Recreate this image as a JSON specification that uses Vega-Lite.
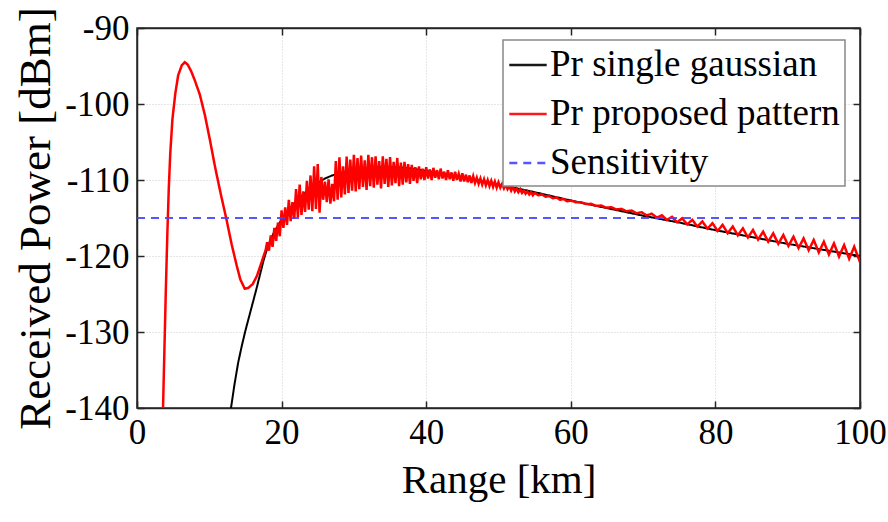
{
  "$schema": "https://vega.github.io/schema/vega-lite/v6.json",
  "width": 723,
  "height": 380,
  "autosize": "none",
  "padding": {"left": 137, "top": 28, "right": 28, "bottom": 114},
  "background": "white",
  "config": {
    "font": "Liberation Serif",
    "view": {"stroke": "#262626", "strokeWidth": 1.5},
    "style": {"guide-label": {"font": "Liberation Serif"}, "guide-title": {"font": "Liberation Serif"}},
    "axis": {
      "labelFont": "Liberation Serif",
      "titleFont": "Liberation Serif",
      "labelColor": "#000000",
      "titleColor": "#000000",
      "labelFontSize": 35,
      "titleFontWeight": "normal",
      "domainColor": "#262626",
      "domainWidth": 1.5,
      "tickColor": "#262626",
      "tickWidth": 1.5,
      "tickSize": -7,
      "labelFlush": false,
      "labelOverlap": false,
      "gridColor": "#cccccc",
      "gridDash": [1, 2],
      "gridWidth": 1
    },
    "legend": {
      "labelFont": "Liberation Serif",
      "labelFontSize": 37,
      "labelColor": "#000000",
      "labelLimit": 0,
      "orient": "none",
      "legendX": 366,
      "legendY": 12,
      "fillColor": "white",
      "strokeColor": "#888888",
      "strokeWidth": 1.5,
      "padding": 5,
      "symbolType": "stroke",
      "symbolSize": 1400,
      "symbolStrokeWidth": 2.5,
      "rowPadding": 11,
      "labelOffset": 2,
      "title": null
    }
  },
  "datasets": {
    "black": [
      {"s": "Pr single gaussian", "x": 13.0, "y": -140},
      {"s": "Pr single gaussian", "x": 13.5, "y": -136.8},
      {"s": "Pr single gaussian", "x": 14.0, "y": -134.0},
      {"s": "Pr single gaussian", "x": 14.5, "y": -131.8},
      {"s": "Pr single gaussian", "x": 15.0, "y": -129.8},
      {"s": "Pr single gaussian", "x": 15.5, "y": -128.0},
      {"s": "Pr single gaussian", "x": 16.0, "y": -126.2},
      {"s": "Pr single gaussian", "x": 16.5, "y": -124.4},
      {"s": "Pr single gaussian", "x": 17.0, "y": -122.5},
      {"s": "Pr single gaussian", "x": 17.5, "y": -120.6},
      {"s": "Pr single gaussian", "x": 18.0, "y": -119.0},
      {"s": "Pr single gaussian", "x": 18.5, "y": -117.8},
      {"s": "Pr single gaussian", "x": 19.0, "y": -116.8},
      {"s": "Pr single gaussian", "x": 20.0, "y": -115.2},
      {"s": "Pr single gaussian", "x": 21.0, "y": -113.9},
      {"s": "Pr single gaussian", "x": 22.0, "y": -112.8},
      {"s": "Pr single gaussian", "x": 23.0, "y": -111.9},
      {"s": "Pr single gaussian", "x": 24.0, "y": -111.1},
      {"s": "Pr single gaussian", "x": 25.0, "y": -110.4},
      {"s": "Pr single gaussian", "x": 26.0, "y": -109.8},
      {"s": "Pr single gaussian", "x": 27.0, "y": -109.4},
      {"s": "Pr single gaussian", "x": 28.0, "y": -109.1},
      {"s": "Pr single gaussian", "x": 30.0, "y": -108.7},
      {"s": "Pr single gaussian", "x": 32.0, "y": -108.4},
      {"s": "Pr single gaussian", "x": 34.0, "y": -108.3},
      {"s": "Pr single gaussian", "x": 36.0, "y": -108.3},
      {"s": "Pr single gaussian", "x": 38.0, "y": -108.5},
      {"s": "Pr single gaussian", "x": 40.0, "y": -108.8},
      {"s": "Pr single gaussian", "x": 45.0, "y": -109.6},
      {"s": "Pr single gaussian", "x": 50.0, "y": -110.6},
      {"s": "Pr single gaussian", "x": 55.0, "y": -111.6},
      {"s": "Pr single gaussian", "x": 60.0, "y": -112.7},
      {"s": "Pr single gaussian", "x": 65.0, "y": -113.7},
      {"s": "Pr single gaussian", "x": 70.0, "y": -114.7},
      {"s": "Pr single gaussian", "x": 75.0, "y": -115.6},
      {"s": "Pr single gaussian", "x": 80.0, "y": -116.6},
      {"s": "Pr single gaussian", "x": 85.0, "y": -117.5},
      {"s": "Pr single gaussian", "x": 90.0, "y": -118.4},
      {"s": "Pr single gaussian", "x": 95.0, "y": -119.2},
      {"s": "Pr single gaussian", "x": 100.0, "y": -120.0}
    ],
    "red": [
      {"x": 3.6, "y": -140}, {"x": 3.8, "y": -132}, {"x": 4.0, "y": -124}, {"x": 4.2, "y": -117},
      {"x": 4.4, "y": -111}, {"x": 4.6, "y": -106.5}, {"x": 4.9, "y": -102}, {"x": 5.3, "y": -98.6},
      {"x": 5.7, "y": -96.2}, {"x": 6.2, "y": -94.9}, {"x": 6.6, "y": -94.5}, {"x": 7.0, "y": -94.8},
      {"x": 7.5, "y": -95.7}, {"x": 8.0, "y": -96.9}, {"x": 8.7, "y": -98.8}, {"x": 9.4, "y": -101.5},
      {"x": 10.1, "y": -104.8}, {"x": 10.8, "y": -108.3}, {"x": 11.6, "y": -111.9}, {"x": 12.4, "y": -115.3},
      {"x": 13.1, "y": -118.5}, {"x": 13.8, "y": -121.3}, {"x": 14.3, "y": -123.1}, {"x": 14.9, "y": -124.3},
      {"x": 15.4, "y": -124.2}, {"x": 16.0, "y": -123.7}, {"x": 16.6, "y": -122.6}, {"x": 17.2, "y": -120.9},
      {"x": 17.8, "y": -119.2},
      {"x": 18.00, "y": -118.2}, {"x": 18.25, "y": -119.3}, {"x": 18.50, "y": -117.3}, {"x": 18.75, "y": -118.8},
      {"x": 19.00, "y": -116.3}, {"x": 19.25, "y": -118.0}, {"x": 19.50, "y": -115.6}, {"x": 19.75, "y": -117.4},
      {"x": 20.00, "y": -114.0}, {"x": 20.25, "y": -116.3}, {"x": 20.50, "y": -113.6}, {"x": 20.75, "y": -115.9},
      {"x": 21.00, "y": -112.6}, {"x": 21.25, "y": -115.4}, {"x": 21.50, "y": -112.9}, {"x": 21.75, "y": -115.1},
      {"x": 22.00, "y": -111.2}, {"x": 22.25, "y": -114.9}, {"x": 22.50, "y": -110.6}, {"x": 22.75, "y": -114.6},
      {"x": 23.00, "y": -111.5}, {"x": 23.25, "y": -114.2}, {"x": 23.50, "y": -110.1}, {"x": 23.75, "y": -113.9},
      {"x": 24.00, "y": -109.4}, {"x": 24.25, "y": -114.1}, {"x": 24.50, "y": -108.2}, {"x": 24.75, "y": -113.8},
      {"x": 25.00, "y": -107.9}, {"x": 25.25, "y": -114.3}, {"x": 25.50, "y": -109.6}, {"x": 25.75, "y": -112.6},
      {"x": 26.00, "y": -110.2}, {"x": 26.25, "y": -112.9}, {"x": 26.50, "y": -109.9}, {"x": 26.75, "y": -113.1},
      {"x": 27.00, "y": -110.5}, {"x": 27.25, "y": -112.8}, {"x": 27.50, "y": -107.5}, {"x": 27.75, "y": -112.6},
      {"x": 28.00, "y": -107.0}, {"x": 28.25, "y": -112.3}, {"x": 28.50, "y": -108.2}, {"x": 28.75, "y": -111.9},
      {"x": 29.00, "y": -106.9}, {"x": 29.25, "y": -111.7}, {"x": 29.50, "y": -107.3}, {"x": 29.75, "y": -111.4},
      {"x": 30.00, "y": -106.7}, {"x": 30.25, "y": -111.5}, {"x": 30.50, "y": -107.1}, {"x": 30.75, "y": -111.2},
      {"x": 31.00, "y": -106.8}, {"x": 31.25, "y": -110.9}, {"x": 31.50, "y": -107.4}, {"x": 31.75, "y": -111.3},
      {"x": 32.00, "y": -106.7}, {"x": 32.25, "y": -110.8}, {"x": 32.50, "y": -107.0}, {"x": 32.75, "y": -111.0},
      {"x": 33.00, "y": -106.9}, {"x": 33.25, "y": -110.6}, {"x": 33.50, "y": -107.5}, {"x": 33.75, "y": -111.1},
      {"x": 34.00, "y": -106.9}, {"x": 34.25, "y": -110.5}, {"x": 34.50, "y": -107.2}, {"x": 34.75, "y": -110.9},
      {"x": 35.00, "y": -107.0}, {"x": 35.25, "y": -110.7}, {"x": 35.50, "y": -107.6}, {"x": 35.75, "y": -110.4},
      {"x": 36.00, "y": -107.1}, {"x": 36.25, "y": -110.8}, {"x": 36.50, "y": -107.7}, {"x": 36.75, "y": -110.6},
      {"x": 37.00, "y": -107.6}, {"x": 37.25, "y": -110.3}, {"x": 37.50, "y": -107.9}, {"x": 37.75, "y": -110.5},
      {"x": 38.00, "y": -108.0}, {"x": 38.25, "y": -110.1}, {"x": 38.50, "y": -108.3}, {"x": 38.75, "y": -110.4},
      {"x": 39.00, "y": -108.2}, {"x": 39.25, "y": -109.9}, {"x": 39.50, "y": -108.5}, {"x": 39.75, "y": -110.0},
      {"x": 40.00, "y": -108.3}, {"x": 40.25, "y": -109.8}, {"x": 40.50, "y": -108.6}, {"x": 40.75, "y": -110.0},
      {"x": 41.00, "y": -108.4}, {"x": 41.25, "y": -109.7}, {"x": 41.50, "y": -108.7}, {"x": 41.75, "y": -109.9},
      {"x": 42.00, "y": -108.5}, {"x": 42.25, "y": -109.8}, {"x": 42.50, "y": -108.9}, {"x": 42.75, "y": -110.0},
      {"x": 43.00, "y": -108.7}, {"x": 43.25, "y": -109.9}, {"x": 43.50, "y": -109.0}, {"x": 43.75, "y": -110.1},
      {"x": 44.00, "y": -108.9}, {"x": 44.25, "y": -110.0}, {"x": 44.50, "y": -109.2}, {"x": 44.75, "y": -110.2},
      {"x": 45.00, "y": -109.1}, {"x": 45.25, "y": -110.2}, {"x": 45.50, "y": -109.3}, {"x": 45.75, "y": -110.3},
      {"x": 46.00, "y": -109.4}, {"x": 46.25, "y": -110.4}, {"x": 46.50, "y": -109.5}, {"x": 46.75, "y": -110.4},
      {"x": 47.00, "y": -109.7}, {"x": 47.25, "y": -110.5}, {"x": 47.50, "y": -109.8}, {"x": 47.75, "y": -110.6},
      {"x": 48.00, "y": -109.9}, {"x": 48.25, "y": -110.7}, {"x": 48.50, "y": -110.0}, {"x": 48.75, "y": -110.8},
      {"x": 49.00, "y": -110.1}, {"x": 49.25, "y": -110.9}, {"x": 49.50, "y": -110.2}, {"x": 49.75, "y": -111.0},
      {"x": 50.00, "y": -110.3}, {"x": 50.25, "y": -111.0}, {"x": 50.50, "y": -110.5}, {"x": 50.75, "y": -111.1},
      {"x": 51.00, "y": -110.6}, {"x": 51.25, "y": -111.2}, {"x": 51.50, "y": -110.8}, {"x": 51.75, "y": -111.4},
      {"x": 52.00, "y": -110.9}, {"x": 52.25, "y": -111.5}, {"x": 52.50, "y": -111.1}, {"x": 52.75, "y": -111.6},
      {"x": 53.00, "y": -111.2}, {"x": 53.25, "y": -111.7}, {"x": 53.50, "y": -111.4}, {"x": 53.75, "y": -111.8},
      {"x": 54.00, "y": -111.5}, {"x": 54.25, "y": -111.9}, {"x": 54.50, "y": -111.6}, {"x": 54.75, "y": -112.0},
      {"x": 55.00, "y": -111.7}, {"x": 55.50, "y": -112.0}, {"x": 56.00, "y": -111.9}, {"x": 56.50, "y": -112.2},
      {"x": 57.00, "y": -112.1}, {"x": 57.50, "y": -112.4}, {"x": 58.00, "y": -112.3}, {"x": 58.50, "y": -112.6},
      {"x": 59.00, "y": -112.5}, {"x": 59.50, "y": -112.8}, {"x": 60.00, "y": -112.7},
      {"x": 60.7, "y": -112.92}, {"x": 61.4, "y": -112.92}, {"x": 62.1, "y": -113.16}, {"x": 62.8, "y": -113.14},
      {"x": 63.5, "y": -113.4}, {"x": 64.2, "y": -113.36}, {"x": 64.9, "y": -113.64}, {"x": 65.6, "y": -113.58},
      {"x": 66.3, "y": -113.88}, {"x": 67.0, "y": -113.8}, {"x": 67.7, "y": -114.12}, {"x": 68.4, "y": -114.02},
      {"x": 69.1, "y": -114.38}, {"x": 69.8, "y": -114.24}, {"x": 70.5, "y": -114.66}, {"x": 71.2, "y": -114.44},
      {"x": 71.9, "y": -114.96}, {"x": 72.6, "y": -114.64}, {"x": 73.3, "y": -115.26}, {"x": 74.0, "y": -114.84},
      {"x": 74.7, "y": -115.56}, {"x": 75.4, "y": -115.04}, {"x": 76.1, "y": -115.84}, {"x": 76.8, "y": -115.24},
      {"x": 77.5, "y": -116.12}, {"x": 78.2, "y": -115.46}, {"x": 78.9, "y": -116.4}, {"x": 79.6, "y": -115.68},
      {"x": 80.3, "y": -116.7}, {"x": 81.0, "y": -115.9}, {"x": 81.7, "y": -117.0}, {"x": 82.4, "y": -116.12},
      {"x": 83.1, "y": -117.28}, {"x": 83.8, "y": -116.36}, {"x": 84.5, "y": -117.56}, {"x": 85.2, "y": -116.58},
      {"x": 85.9, "y": -117.84}, {"x": 86.6, "y": -116.8}, {"x": 87.3, "y": -118.12}, {"x": 88.0, "y": -117.02},
      {"x": 88.7, "y": -118.4}, {"x": 89.4, "y": -117.24}, {"x": 90.1, "y": -118.68}, {"x": 90.8, "y": -117.46},
      {"x": 91.5, "y": -118.96}, {"x": 92.2, "y": -117.68}, {"x": 92.9, "y": -119.24}, {"x": 93.6, "y": -117.9},
      {"x": 94.3, "y": -119.52}, {"x": 95.0, "y": -118.12}, {"x": 95.7, "y": -119.8}, {"x": 96.4, "y": -118.34},
      {"x": 97.1, "y": -120.08}, {"x": 97.8, "y": -118.56}, {"x": 98.5, "y": -120.36}, {"x": 99.2, "y": -118.78},
      {"x": 99.9, "y": -120.55}, {"x": 100.0, "y": -120.4}
    ],
    "sens": [
      {"s": "Sensitivity", "x": 0, "y": -115},
      {"s": "Sensitivity", "x": 100, "y": -115}
    ]
  },
  "resolve": {"axis": {"x": "independent", "y": "independent"}},
  "layer": [
    {
      "data": {"name": "black"},
      "mark": {"type": "line", "strokeWidth": 2, "clip": true},
      "encoding": {
        "x": {"field": "x", "type": "quantitative",
              "scale": {"domain": [0, 100], "nice": false, "zero": false},
              "axis": {"values": [0, 20, 40, 60, 80, 100], "labelExpr": "'' + datum.value", "labelFont": "Liberation Serif", "titleFont": "Liberation Serif", "title": "Range [km]", "titleFontSize": 41, "titlePadding": 10, "labelPadding": 14, "grid": true}},
        "y": {"field": "y", "type": "quantitative",
              "scale": {"domain": [-140, -90], "nice": false, "zero": false},
              "axis": {"values": [-140, -130, -120, -110, -100, -90], "labelExpr": "'' + datum.value", "labelFont": "Liberation Serif", "titleFont": "Liberation Serif", "title": "Received Power [dBm]", "titleFontSize": 45, "titlePadding": 6, "labelPadding": 15, "grid": true}},
        "color": {"field": "s", "type": "nominal",
                  "scale": {"domain": ["Pr single gaussian", "Pr proposed pattern", "Sensitivity"], "range": ["#000000", "#ff0000", "#4444ff"]},
                  "legend": {"title": null, "labelLimit": 0}},
        "strokeDash": {"field": "s", "type": "nominal",
                  "scale": {"domain": ["Pr single gaussian", "Pr proposed pattern", "Sensitivity"], "range": [[1, 0], [1, 0], [8, 6]]},
                  "legend": {"title": null, "labelLimit": 0}}
      }
    },
    {
      "data": {"name": "red"},
      "transform": [{"calculate": "'Pr proposed pattern'", "as": "s"}],
      "mark": {"type": "line", "strokeWidth": 2.5, "clip": true},
      "encoding": {
        "x": {"field": "x", "type": "quantitative",
              "axis": {"orient": "top", "values": [0, 20, 40, 60, 80, 100], "labels": false, "title": null, "grid": false}},
        "y": {"field": "y", "type": "quantitative",
              "axis": {"orient": "right", "values": [-140, -130, -120, -110, -100, -90], "labels": false, "title": null, "grid": false}},
        "color": {"field": "s", "type": "nominal"},
        "strokeDash": {"field": "s", "type": "nominal"}
      }
    },
    {
      "data": {"name": "sens"},
      "mark": {"type": "line", "strokeWidth": 2, "opacity": 0.9},
      "encoding": {
        "x": {"field": "x", "type": "quantitative", "axis": null},
        "y": {"field": "y", "type": "quantitative", "axis": null},
        "color": {"field": "s", "type": "nominal"},
        "strokeDash": {"field": "s", "type": "nominal"}
      }
    }
  ]
}
